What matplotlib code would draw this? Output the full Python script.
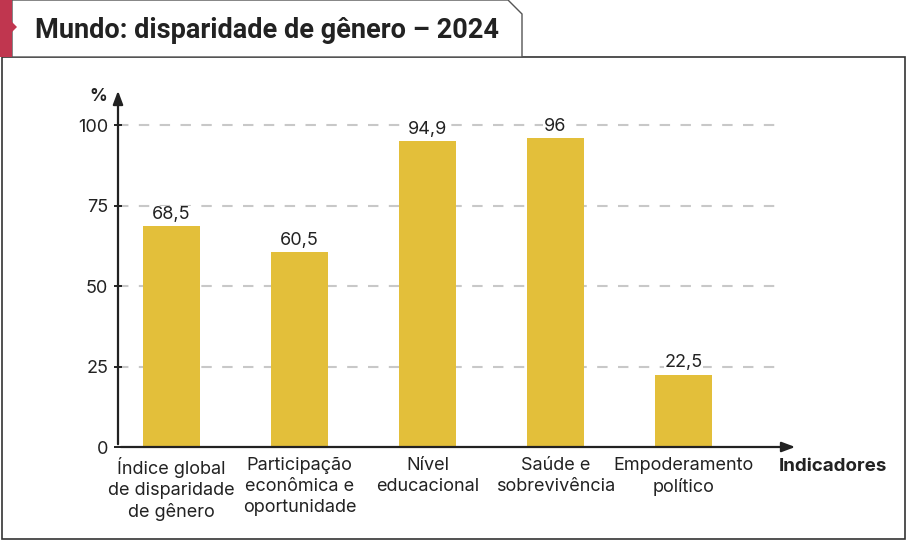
import matplotlib.pyplot as plt
from matplotlib.patches import Polygon, Rectangle

categorias = ['Índice global\nde disparidade\nde gênero',
              'Participação\neconômica e\noportunidade',
              'Nível\neducacional',
              'Saúde e\nsobrevivência',
              'Empoderamento\npolítico']
valores = [68.5, 60.5, 94.9, 96, 22.5]
rotulos = ['68,5', '60,5', '94,9', '96', '22,5']
yticks = [0, 25, 50, 75, 100]

plt.rcParams['font.family'] = ['Inter', 'DejaVu Sans']

W, H = 907, 541
fig = plt.figure(figsize=(W / 100, H / 100), dpi=100)

# decorations in pixel coords
deco = fig.add_axes([0, 0, 1, 1])
deco.set_xlim(0, W)
deco.set_ylim(H, 0)
deco.axis('off')
deco.add_patch(Rectangle((2, 57), 903, 482, fill=False, edgecolor='#333333', lw=1.2))
deco.add_patch(Polygon([(12, 0), (508, 0), (522, 14), (522, 57), (12, 57)],
                       closed=True, facecolor='white', edgecolor='#555555', lw=1))
deco.add_patch(Polygon([(0, 0), (12, 0), (12, 22), (17, 27), (12, 32), (12, 57), (0, 57)],
                       closed=True, facecolor='#C0364F', edgecolor='none'))
deco.text(35, 31, 'Mundo: disparidade de gênero – 2024', fontsize=19.5, fontweight='bold',
          family=['Roboto', 'DejaVu Sans'], color='#222222', va='center', ha='left')

ax = fig.add_axes([118 / W, 1 - 447 / H, (798 - 118) / W, (447 - 88) / H])
ax.set_xlim(-0.418, 4.895)
ax.set_ylim(0, 111.5)
for s in ax.spines.values():
    s.set_visible(False)

x = list(range(len(valores)))
ax.bar(x, valores, width=0.445, color='#E3BF3A', zorder=2)
for yt in yticks[1:]:
    ax.plot([-0.418, 4.75], [yt, yt], color='#C8C8C8', lw=1.5, ls=(0, (5, 5)), zorder=1)
for xi, v, r in zip(x, valores, rotulos):
    ax.text(xi, v + 1, r, ha='center', va='bottom', fontsize=13, color='#222222', zorder=3,
            bbox=dict(facecolor='white', edgecolor='none', pad=0.5))

ax.annotate('', xy=(-0.418, 111.5), xytext=(-0.418, 0),
            arrowprops=dict(arrowstyle='-|>,head_length=0.8,head_width=0.3', color='#222222', lw=1.6),
            annotation_clip=False)
ax.annotate('', xy=(4.895, 0), xytext=(-0.418, 0),
            arrowprops=dict(arrowstyle='-|>,head_length=0.8,head_width=0.3', color='#222222', lw=1.6),
            annotation_clip=False)

ax.set_yticks(yticks)
ax.set_yticklabels([str(t) for t in yticks], fontsize=13, color='#222222')
ax.tick_params(axis='y', length=6, width=1.4, direction='inout', color='#222222', pad=4)
ax.set_xticks(x)
ax.set_xticklabels(categorias, fontsize=13, color='#222222', linespacing=1.3)
ax.tick_params(axis='x', length=0, pad=7)

ax.text(-0.5, 109, '%', ha='right', va='center', fontsize=12.5, fontweight='bold', color='#222222')
ax.text(5.17, -6, 'Indicadores', ha='center', va='center', fontsize=13.5, fontweight='bold',
        color='#222222', clip_on=False)

fig.savefig('out.png', dpi=100)
